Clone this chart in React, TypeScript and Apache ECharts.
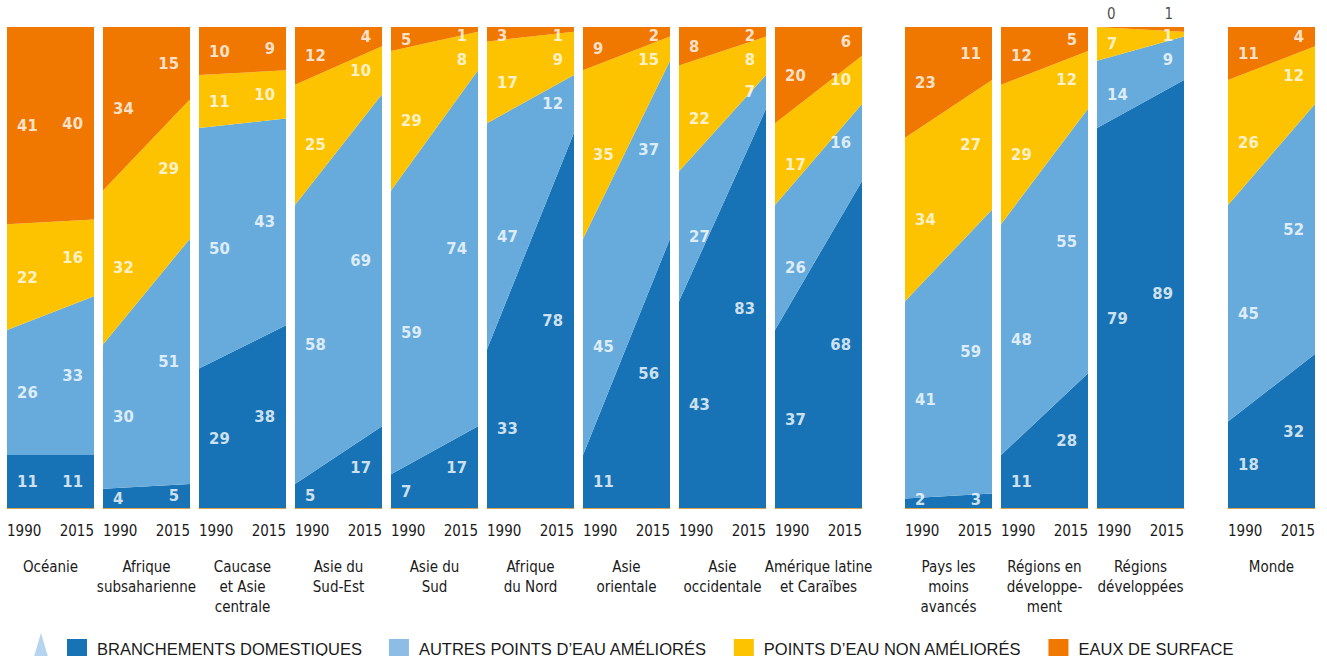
import React, { useEffect, useRef } from "react";
import * as echarts from "echarts";

// ---------- data ----------
const regions = [
  "Océanie",
  "Afrique\nsubsaharienne",
  "Caucase\net Asie\ncentrale",
  "Asie du\nSud-Est",
  "Asie du\nSud",
  "Afrique\ndu Nord",
  "Asie\norientale",
  "Asie\noccidentale",
  "Amérique latine\net Caraïbes",
  "Pays les\nmoins\navancés",
  "Régions en\ndéveloppe-\nment",
  "Régions\ndéveloppées",
  "Monde",
];
const years = ["1990", "2015"];
const bandNames = [
  "BRANCHEMENTS DOMESTIQUES",
  "AUTRES POINTS D’EAU AMÉLIORÉS",
  "POINTS D’EAU NON AMÉLIORÉS",
  "EAUX DE SURFACE",
];
const piped1990 = [11, 4, 29, 5, 7, 33, 11, 43, 37, 2, 11, 79, 18];
const piped2015 = [11, 5, 38, 17, 17, 78, 56, 83, 68, 3, 28, 89, 32];
const other1990 = [26, 30, 50, 58, 59, 47, 45, 27, 26, 41, 48, 14, 45];
const other2015 = [33, 51, 43, 69, 74, 12, 37, 7, 16, 59, 55, 9, 52];
const unimp1990 = [22, 32, 11, 25, 29, 17, 35, 22, 17, 34, 29, 7, 26];
// Asie orientale 2015: drawn as 5, printed as "15" in the source figure
const unimp2015 = [16, 29, 10, 10, 8, 9, 5, 8, 10, 27, 12, 1, 12];
const surface1990 = [41, 34, 10, 12, 5, 3, 9, 8, 20, 23, 12, 0, 11];
const surface2015 = [40, 15, 9, 4, 1, 1, 2, 2, 6, 11, 5, 1, 4];
const printedOverrides = [{ panel: 6, band: 2, year: 1, text: "15" }];

// ---------- styles ----------
const colors = ["#1773b5", "#66abdc", "#fec300", "#f07700"];
const legendColors = ["#1773b5", "#8dbde6", "#fec300", "#f07700"];
const narrow = '"Liberation Sans Narrow", "DejaVu Sans Condensed", "Liberation Sans", sans-serif';
const textDark = "#1a1a1a";

const panelLeft = (i: number) => (i < 9 ? 7 + 96 * i : i < 12 ? 905 + 96 * (i - 9) : 1228);
const PANEL_W = 87;
const PANEL_TOP = 27;
const PANEL_H = 481;
const LABEL_TOP = 98.3; // highest label position (% of panel)
const LABEL_BOTTOM = 1.7;
const LABEL_GAP = 5; // min vertical gap between stacked labels (%)

export default function App() {
  const ref = useRef<HTMLDivElement>(null);
  useEffect(() => {
    document.body.style.margin = "0";
    if (!ref.current) return;
    const chart = echarts.init(ref.current, undefined, { renderer: "svg" });
    const bands = [
      [piped1990, piped2015],
      [other1990, other2015],
      [unimp1990, unimp2015],
      [surface1990, surface2015],
    ];
    const grid: any[] = [];
    const xAxis: any[] = [];
    const yAxis: any[] = [];
    const series: any[] = [];
    regions.forEach((name, p) => {
      grid.push({ left: panelLeft(p), top: PANEL_TOP, width: PANEL_W, height: PANEL_H });
      // visible category axis for the areas
      xAxis.push({
        gridIndex: p,
        type: "category",
        data: years,
        boundaryGap: false,
        splitLine: { show: false },
        axisTick: { show: false },
        axisLine: { show: true, onZero: false, lineStyle: { color: "#d6a24a", width: 1 } },
        axisLabel: {
          interval: 0,
          alignMinLabel: "left",
          alignMaxLabel: "right",
          margin: 15,
          fontSize: 15,
          color: textDark,
          fontFamily: narrow,
        },
        name,
        nameLocation: "middle",
        nameGap: 49,
        nameTextStyle: { fontSize: 15, lineHeight: 20, color: textDark, fontFamily: narrow, align: "center" },
      });
      // hidden value axis used to place the value labels
      xAxis.push({ gridIndex: p, type: "value", min: 0, max: 1, show: false });
      yAxis.push({ gridIndex: p, type: "value", min: 0, max: 100, show: false });
      bands.forEach((b, bi) => {
        series.push({
          type: "line",
          name: bandNames[bi],
          xAxisIndex: 2 * p,
          yAxisIndex: p,
          stack: "s" + p,
          symbol: "none",
          lineStyle: { width: 0 },
          itemStyle: { color: colors[bi] },
          areaStyle: { color: colors[bi], opacity: 1 },
          data: [b[0][p], b[1][p]],
        });
      });
      // labels: computed top-down so that thin bands don't collide
      const labelData: any[] = [];
      [0, 1].forEach((yi) => {
        const mids: number[] = [];
        let cum = 0;
        bands.forEach((b) => {
          const v = b[yi][p];
          mids.push(cum + v / 2);
          cum += v;
        });
        let above = LABEL_TOP + LABEL_GAP;
        for (let bi = bands.length - 1; bi >= 0; bi--) {
          const b = bands[bi];
          const v = b[yi][p];
          const ov = printedOverrides.find((o) => o.panel === p && o.band === bi && o.year === yi);
          const text = ov ? ov.text : String(v);
          const isTop = bi === bands.length - 1;
          const outside = isTop && Math.max(b[0][p], b[1][p]) <= 1;
          let pos = 100;
          if (!outside) {
            pos = Math.min(mids[bi], LABEL_TOP, above - LABEL_GAP);
            pos = Math.max(LABEL_BOTTOM, pos);
            above = pos;
          }
          labelData.push({
            value: [yi === 0 ? 0.115 : 0.874, pos],
            label: {
              show: true,
              formatter: text,
              position: yi === 0 ? "right" : "left",
              distance: 0,
              offset: outside ? [0, -13] : [0, 0],
              color: outside ? textDark : "#ffffff",
              fontWeight: outside ? "normal" : "bold",
              fontSize: outside ? 15 : 16.5,
              fontFamily: narrow,
              textBorderWidth: 0,
            },
          });
        }
      });
      series.push({
        type: "scatter",
        name: "labels" + p,
        xAxisIndex: 2 * p + 1,
        yAxisIndex: p,
        symbolSize: 0.1,
        itemStyle: { color: "transparent" },
        clip: false,
        silent: true,
        data: labelData,
        z: 10,
      });
    });

    chart.setOption({
      animation: false,
      grid,
      xAxis,
      yAxis,
      series,
      legend: {
        data: bandNames.map((n, i) => ({ name: n, itemStyle: { color: legendColors[i] } })),
        left: 62,
        top: 634,
        icon: "rect",
        itemWidth: 20,
        itemHeight: 19,
        itemGap: 27,
        selectedMode: false,
        textStyle: { fontSize: 16.5, color: textDark, fontFamily: '"Liberation Sans", Arial, sans-serif', padding: [0, 0, 4, 5] },
      },
      graphic: [
        {
          type: "polygon",
          shape: { points: [[33, 660], [41, 633], [49, 660]] },
          style: { fill: "#b5d4ef" },
        },
      ],
    });
    return () => chart.dispose();
  }, []);
  return <div ref={ref} style={{ width: 1327, height: 656 }} />;
}
